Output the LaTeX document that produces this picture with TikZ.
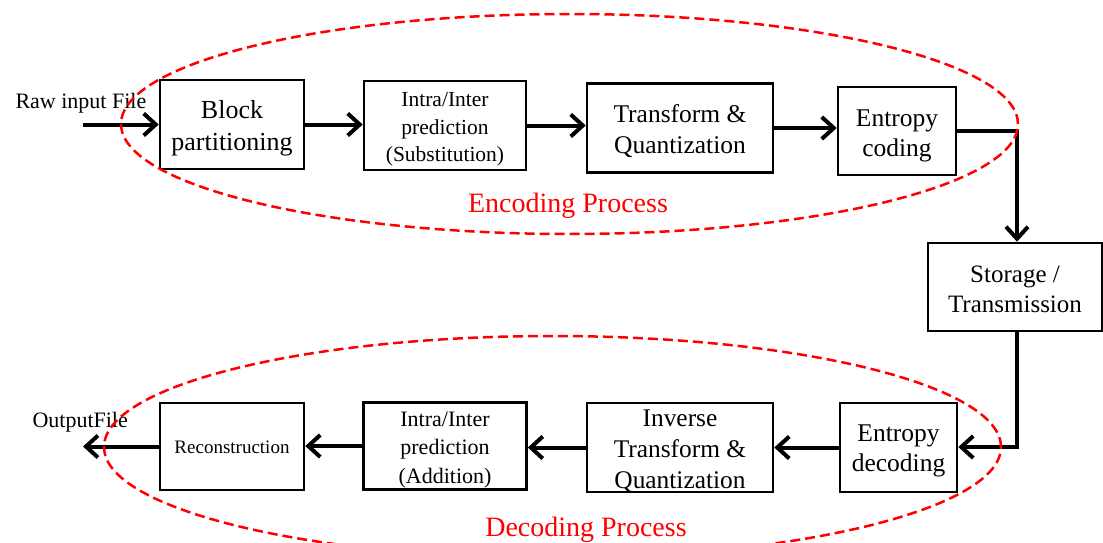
\documentclass[tikz,border=0pt]{standalone}
\usepackage{fontspec}
\setmainfont{Liberation Serif}
\usetikzlibrary{arrows.meta}
\begin{document}
\begin{tikzpicture}[x=1pt,y=-1pt,
  box/.style={draw, line width=2.6pt, inner sep=0pt},
  boxtext/.style={align=center, inner sep=0pt, yshift=-4pt},
  arr/.style={line width=4pt, -{Straight Barb[length=12pt,width=22pt]}},
  groupring/.style={draw=red, line width=2.5pt, dash pattern=on 10pt off 5pt},
  grouplbl/.style={red, anchor=base, font=\fontsize{28}{34}\selectfont},
  iolbl/.style={anchor=base west, font=\fontsize{22}{26}\selectfont}]
\useasboundingbox (0,0) rectangle (1103,543);

% encoder boxes
\node[box, minimum width=144pt, minimum height=89pt] (block) at (232,124.5) {};
\node[box, minimum width=162pt, minimum height=89pt] (intraS) at (445,125.5) {};
\node[box, minimum width=186pt, minimum height=89pt] (trans) at (680,128) {};
\node[box, minimum width=118pt, minimum height=88pt] (entc) at (897,131) {};
\node[box, minimum width=174pt, minimum height=88pt] (stor) at (1015,287) {};

% decoder boxes
\node[box, minimum width=117pt, minimum height=89pt] (entd) at (898.5,447.5) {};
\node[box, minimum width=186pt, minimum height=89pt] (inv) at (680,447.5) {};
\node[box, minimum width=163pt, minimum height=87pt] (intraA) at (445,446) {};
\node[box, minimum width=144pt, minimum height=87pt] (recon) at (232,446.5) {};

% box texts
\node[boxtext, font=\fontsize{26}{32}\selectfont] (blockt) at (block) {Block\\partitioning};
\node[boxtext, font=\fontsize{21.5}{27.5}\selectfont] (intraSt) at (intraS) {Intra/Inter\\prediction\\(Substitution)};
\node[boxtext, yshift=1pt, font=\fontsize{25.5}{31}\selectfont] (transt) at (trans) {Transform \&\\Quantization};
\node[boxtext, yshift=-1pt, font=\fontsize{25.5}{30}\selectfont] (entct) at (entc) {Entropy\\coding};
\node[boxtext, yshift=2pt, font=\fontsize{25}{30}\selectfont] (stort) at (stor) {Storage /\\Transmission};
\node[boxtext, yshift=1pt, font=\fontsize{25.5}{30}\selectfont] (entdt) at (entd) {Entropy\\decoding};
\node[boxtext, font=\fontsize{25.4}{31}\selectfont] (invt) at (inv) {Inverse\\Transform \&\\Quantization};
\node[boxtext, font=\fontsize{22}{28.5}\selectfont] (intraAt) at (intraA) {Intra/Inter\\prediction\\(Addition)};
\node[boxtext, yshift=3pt, font=\fontsize{19}{23}\selectfont] (recont) at (recon) {Reconstruction};

% io labels
\node[iolbl] (rawlbl) at (12,108) {Raw input File};
\node[iolbl] (outlbl) at (29,427) {OutputFile};

\coordinate (in) at (83,124.5);
\coordinate (out) at (83,447);
\coordinate (k1) at (1017,131);
\coordinate (k2) at (1017,447);

% connectors
\draw[arr] (in) -- (block.west);
\draw[arr] (block.east) -- (block.east -| intraS.west);
\draw[arr] (intraS.east) -- (intraS.east -| trans.west);
\draw[arr] (trans.east) -- (trans.east -| entc.west);
\draw[arr] (entc.east) -- (entc.east -| k1) -- (k1 |- stor.north);
\draw[arr] (k2 |- stor.south) -- (k2) -- (k2 -| entd.east);
\draw[arr] (entd.west) -- (entd.west -| inv.east);
\draw[arr] (inv.west) -- (inv.west -| intraA.east);
\draw[arr] (intraA.west) -- (intraA.west -| recon.east);
\draw[arr] (recon.west) -- (recon.west -| out);

% groups
\draw[groupring] (569.5,124) ellipse [x radius=448.5pt, y radius=110pt];
\draw[groupring] (552.5,447) ellipse [x radius=448.5pt, y radius=111pt];
\node[grouplbl] (enclbl) at (568,212) {Encoding Process};
\node[grouplbl] (declbl) at (586,536) {Decoding Process};
\end{tikzpicture}
\end{document}
